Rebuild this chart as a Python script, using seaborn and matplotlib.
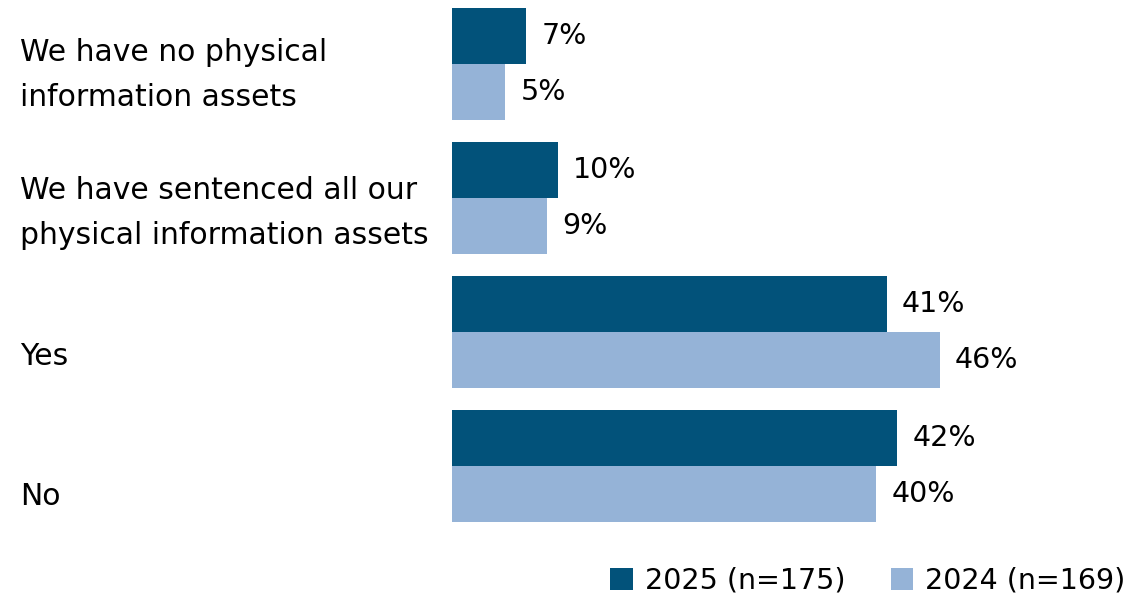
import matplotlib
matplotlib.use("Agg")
import matplotlib.pyplot as plt
import matplotlib.transforms as mtransforms
from matplotlib.patches import Patch
import seaborn as sns
import pandas as pd

categories = [
    "We have no physical\ninformation assets",
    "We have sentenced all our\nphysical information assets",
    "Yes",
    "No",
]
series_names = ["2025 (n=175)", "2024 (n=169)"]
values_2025 = [7, 10, 41, 42]
values_2024 = [5, 9, 46, 40]
colors = ["#02527A", "#95B3D7"]

df = pd.DataFrame({
    "category": categories * 2,
    "series": [series_names[0]] * 4 + [series_names[1]] * 4,
    "value": values_2025 + values_2024,
})

sns.set_theme(style="white")
plt.rcParams["font.family"] = ["DejaVu Sans"]
plt.rcParams["text.color"] = "black"
FS = 20.5
FS_CAT = 21.5

fig = plt.figure(figsize=(11.29, 6.02), dpi=100)
ax = fig.add_axes([452 / 1129, 69 / 602, 677 / 1129, 533 / 602])

sns.barplot(
    data=df, y="category", x="value", hue="series", orient="h",
    palette=colors, width=0.836, saturation=1, linewidth=0, ax=ax, legend=False,
)

ax.set_xlim(0, 677 / 10.6)
ax.set_ylim(3.5, -0.4776)
ax.set_xlabel("")
ax.set_ylabel("")
ax.set_xticks([])
ax.set_yticks([])
for s in ax.spines.values():
    s.set_visible(False)

for container in ax.containers:
    ax.bar_label(container, labels=[f"{v:.0f}%" for v in container.datavalues],
                 padding=11, fontsize=FS, color="black")

# Category labels, left aligned in the margin
trans = mtransforms.blended_transform_factory(fig.transFigure, ax.transData)
offsets = [0.08, 0.11, 0.18, 0.23]
for i, (cat, off) in enumerate(zip(categories, offsets)):
    fig.text(20 / 1129, i + off, cat, transform=trans, ha="left", va="center",
             fontsize=FS_CAT, color="black", linespacing=1.7)

handles = [Patch(facecolor=c, edgecolor="none") for c in colors]
fig.legend(handles, series_names, loc="center right",
           bbox_to_anchor=(1125 / 1129, 1 - 581 / 602), ncol=2, frameon=False,
           fontsize=FS, handlelength=0.8, handleheight=0.8, handletextpad=0.4,
           columnspacing=1.6, borderaxespad=0, borderpad=0, labelcolor="black")

fig.savefig("out.png", dpi=100)
